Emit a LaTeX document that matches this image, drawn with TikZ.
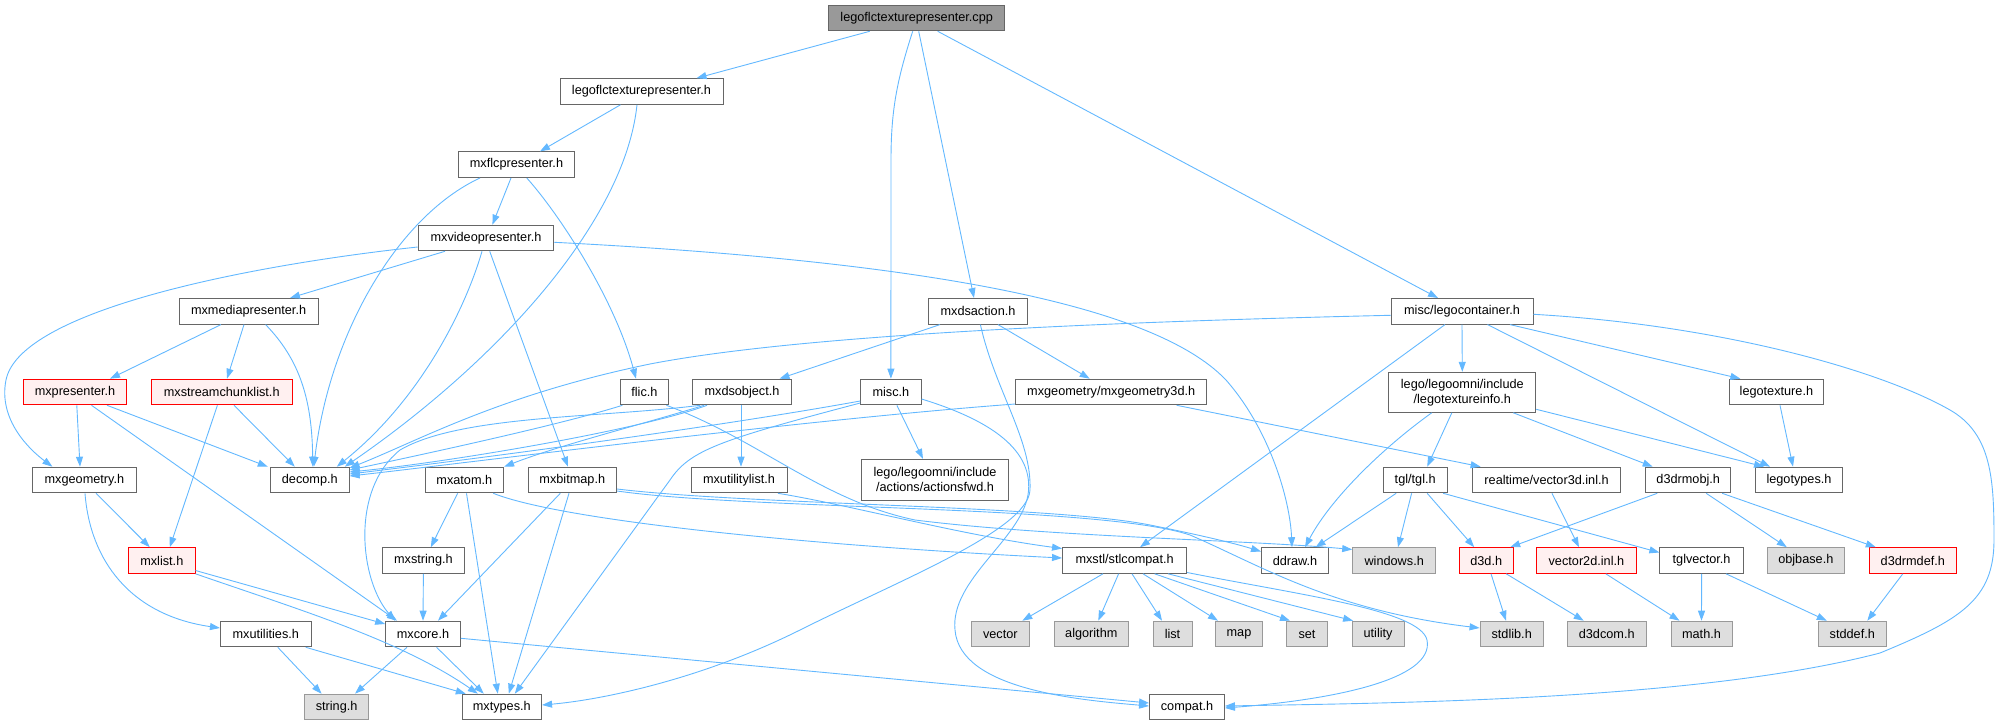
\documentclass[tikz,border=0pt]{standalone}
\usepackage{fontspec}
\setmainfont{Liberation Sans}
\usetikzlibrary{arrows.meta}
\definecolor{boxgray}{HTML}{666666}
\definecolor{rootgray}{HTML}{999999}
\definecolor{sysborder}{HTML}{999999}
\definecolor{sysfill}{HTML}{DEDEDE}
\definecolor{truncfill}{HTML}{FFF0F0}
\definecolor{edgeblue}{HTML}{63B8FF}
\newcommand{\nodefont}{\fontsize{12.7}{15}\selectfont}
\tikzset{
  nbox/.style={draw=boxgray, fill=white, line width=1pt, minimum height=25.6pt,
    inner xsep=2pt, inner ysep=2pt, font=\nodefont, text=black},
  rootbox/.style={nbox, fill=rootgray},
  sysbox/.style={nbox, draw=sysborder, fill=sysfill},
  truncbox/.style={nbox, draw=red, fill=truncfill},
  twoline/.style={align=center, minimum height=40pt},
  conn/.style={draw=edgeblue, line width=0.9pt, -{Triangle[length=10pt,width=7pt]}},
}
\begin{document}
\begin{tikzpicture}[x=1pt,y=-1pt]
\useasboundingbox (0,0) rectangle (1998,725);
% nodes
\node[rootbox, minimum width=176pt] (cpp) at (916.7,18) {legoflctexturepresenter.cpp};
\node[nbox, minimum width=163pt] (lfth) at (641.5,91.5) {legoflctexturepresenter.h};
\node[nbox, minimum width=116pt] (mxflc) at (516.5,164.7) {mxflcpresenter.h};
\node[nbox, minimum width=135.6pt] (mxvideo) at (486,238) {mxvideopresenter.h};
\node[nbox, minimum width=139pt] (mxmedia) at (248.6,311.3) {mxmediapresenter.h};
\node[nbox, minimum width=98.6pt] (mxdsaction) at (978,311.3) {mxdsaction.h};
\node[nbox, minimum width=142pt] (legocont) at (1462,311.3) {misc/legocontainer.h};
\node[truncbox, minimum width=102.6pt] (mxpresenter) at (75,392) {mxpresenter.h};
\node[truncbox, minimum width=141.4pt] (mxstream) at (221.7,392) {mxstreamchunklist.h};
\node[nbox, minimum width=48pt] (flic) at (644.4,392) {flic.h};
\node[nbox, minimum width=99pt] (mxdsobject) at (742,392) {mxdsobject.h};
\node[nbox, minimum width=60.3pt] (misc) at (890.9,392) {misc.h};
\node[nbox, minimum width=191pt] (geom3d) at (1111.2,392) {mxgeometry/mxgeometry3d.h};
\node[nbox, twoline, minimum width=147pt] (texinfo) at (1462.3,392.3) {lego/legoomni/include\\/legotextureinfo.h};
\node[nbox, minimum width=94.7pt] (legotexture) at (1776.4,392) {legotexture.h};
\node[nbox, minimum width=103.6pt] (mxgeometry) at (84.4,480) {mxgeometry.h};
\node[nbox, minimum width=78.6pt] (decomp) at (309.8,480) {decomp.h};
\node[nbox, minimum width=78.6pt] (mxatom) at (464.3,480) {mxatom.h};
\node[nbox, minimum width=88.5pt] (mxbitmap) at (572.3,480) {mxbitmap.h};
\node[nbox, minimum width=96pt] (mxutilitylist) at (739,480) {mxutilitylist.h};
\node[nbox, twoline, minimum width=147pt, minimum height=40.7pt] (actionsfwd) at (935,479.7) {lego/legoomni/include\\/actions/actionsfwd.h};
\node[nbox, minimum width=64.3pt] (tgl) at (1415.2,480) {tgl/tgl.h};
\node[nbox, minimum width=148.7pt] (vec3d) at (1546.6,480) {realtime/vector3d.inl.h};
\node[nbox, minimum width=85.3pt] (d3drmobj) at (1688.2,480) {d3drmobj.h};
\node[nbox, minimum width=87.5pt] (legotypes) at (1799,480) {legotypes.h};
\node[truncbox, minimum width=66.4pt] (mxlist) at (161.8,560.5) {mxlist.h};
\node[nbox, minimum width=81.7pt] (mxstring) at (423.4,560.5) {mxstring.h};
\node[nbox, minimum width=124.1pt] (stlcompat) at (1124.6,560.5) {mxstl/stlcompat.h};
\node[nbox, minimum width=67pt] (ddraw) at (1295,560.5) {ddraw.h};
\node[sysbox, minimum width=83pt] (windows) at (1394.2,560.5) {windows.h};
\node[truncbox, minimum width=53.6pt] (d3d) at (1486.2,560.5) {d3d.h};
\node[truncbox, minimum width=99.6pt] (vec2d) at (1586.4,560.5) {vector2d.inl.h};
\node[nbox, minimum width=83.5pt] (tglvector) at (1701.6,560.5) {tglvector.h};
\node[sysbox, minimum width=77.6pt] (objbase) at (1805.8,560.5) {objbase.h};
\node[truncbox, minimum width=87.1pt] (d3drmdef) at (1912.8,560.5) {d3drmdef.h};
\node[nbox, minimum width=90.7pt] (mxutilities) at (265.8,634) {mxutilities.h};
\node[nbox, minimum width=74.6pt] (mxcore) at (423,634) {mxcore.h};
\node[sysbox, minimum width=58.5pt] (vector) at (1000.3,634) {vector};
\node[sysbox, minimum width=74.6pt] (algorithm) at (1091.3,634) {algorithm};
\node[sysbox, minimum width=39pt] (list) at (1172.5,634) {list};
\node[sysbox, minimum width=47pt] (map) at (1239,634) {map};
\node[sysbox, minimum width=40.2pt] (set) at (1307,634) {set};
\node[sysbox, minimum width=51.8pt] (utility) at (1378.1,634) {utility};
\node[sysbox, minimum width=63.3pt] (stdlib) at (1511.7,634) {stdlib.h};
\node[sysbox, minimum width=78.6pt] (d3dcom) at (1606.7,634) {d3dcom.h};
\node[sysbox, minimum width=61pt] (math) at (1701.5,634) {math.h};
\node[sysbox, minimum width=67.9pt] (stddef) at (1852.3,634) {stddef.h};
\node[sysbox, minimum width=64.3pt] (string) at (336.6,707) {string.h};
\node[nbox, minimum width=79.5pt] (mxtypes) at (501.8,707) {mxtypes.h};
\node[nbox, minimum width=74.9pt] (compat) at (1187,707) {compat.h};
% edges
\draw[conn] ([xshift=-47pt]cpp.south) -- ([xshift=55pt]lfth.north);
\draw[conn] ([xshift=-4pt]cpp.south) .. controls (897,80) and (891,110) .. (891,160) -- (misc.north);
\draw[conn] ([xshift=2pt]cpp.south) -- ([xshift=-4pt]mxdsaction.north);
\draw[conn] ([xshift=21pt]cpp.south) -- ([xshift=-24pt]legocont.north);
\draw[conn] ([xshift=-21pt]lfth.south) -- ([xshift=23.5pt]mxflc.north);
\draw[conn] ([xshift=-4.5pt]lfth.south) .. controls (625,220) and (500,360) .. ([xshift=35pt]decomp.north);
\draw[conn] ([xshift=-36.5pt]mxflc.south) .. controls (400,215) and (330,330) .. ([xshift=4pt]decomp.north);
\draw[conn] ([xshift=-5.5pt]mxflc.south) -- ([xshift=6.4pt]mxvideo.north);
\draw[conn] ([xshift=10.3pt]mxflc.south) .. controls (560,215) and (615,300) .. ([xshift=-8.4pt]flic.north);
\draw[conn] ([yshift=-9pt]mxvideo.west) .. controls (250,265) and (20,310) .. (6,380) .. controls (-2,420) and (30,450) .. ([xshift=-32pt]mxgeometry.north);
\draw[conn] ([xshift=-41pt]mxvideo.south) -- ([xshift=41.4pt]mxmedia.north);
\draw[conn] ([xshift=-4pt]mxvideo.south) .. controls (465,310) and (420,400) .. ([xshift=27pt]decomp.north);
\draw[conn] ([xshift=3.7pt]mxvideo.south) -- ([xshift=-4.3pt]mxbitmap.north);
\draw[conn] ([yshift=-4.3pt]mxvideo.east) .. controls (900,260) and (1150,300) .. (1226,380) .. controls (1270,430) and (1290,500) .. ([xshift=-3pt]ddraw.north);
\draw[conn] ([xshift=-27.6pt]mxmedia.south) -- ([xshift=35pt]mxpresenter.north);
\draw[conn] ([xshift=-4.6pt]mxmedia.south) -- ([xshift=5.3pt]mxstream.north);
\draw[conn] ([xshift=17pt]mxmedia.south) .. controls (300,360) and (312,400) .. ([xshift=3pt]decomp.north);
\draw[conn] ([xshift=1.8pt]mxpresenter.south) -- ([xshift=-4.4pt]mxgeometry.north);
\draw[conn] ([xshift=32pt]mxpresenter.south) -- ([xshift=-42pt]decomp.north);
\draw[conn] ([xshift=16.5pt]mxpresenter.south) -- ([xshift=-26pt]mxcore.north);
\draw[conn] ([xshift=12.3pt]mxstream.south) -- ([xshift=-15pt]decomp.north);
\draw[conn] ([xshift=-4.3pt]mxstream.south) -- ([xshift=8pt]mxlist.north);
\draw[conn] ([xshift=11.6pt]mxgeometry.south) -- ([xshift=-12pt]mxlist.north);
\draw[conn] ([xshift=0.6pt]mxgeometry.south) .. controls (90,560) and (130,615) .. ([yshift=6pt]mxutilities.west);
\draw[conn] ([yshift=-10pt]mxlist.east) -- ([yshift=10pt]mxcore.west);
\draw[conn] (mxlist.south east) .. controls (300,610) and (400,640) .. ([xshift=-24pt]mxtypes.north);
\draw[conn] ([xshift=12pt]mxutilities.south) -- ([xshift=-15pt]string.north);
\draw[conn] ([xshift=40pt]mxutilities.south) -- ([xshift=-36pt]mxtypes.north);
\draw[conn] ([xshift=-16pt]mxcore.south) -- ([xshift=18.4pt]string.north);
\draw[conn] ([xshift=13.6pt]mxcore.south) -- ([xshift=-18pt]mxtypes.north);
\draw[conn] ([yshift=-4.3pt]mxcore.east) -- ([yshift=4pt]compat.west);
\draw[conn] (mxstring.south) -- (mxcore.north);
\draw[conn] ([xshift=-6.7pt]mxatom.south) -- ([xshift=7.4pt]mxstring.north);
\draw[conn] ([xshift=2.2pt]mxatom.south) -- ([xshift=-4pt]mxtypes.north);
\draw[conn] ([xshift=29pt]mxatom.south) .. controls (560,520) and (800,545) .. ([yshift=2.5pt]stlcompat.west);
\draw[conn] ([xshift=-12pt]mxbitmap.south) -- ([xshift=15pt]mxcore.north);
\draw[conn] ([xshift=-3.3pt]mxbitmap.south) -- ([xshift=7pt]mxtypes.north);
\draw[conn] ([yshift=-9pt]mxbitmap.east) .. controls (750,505) and (1050,505) .. (1150,525) .. controls (1210,537) and (1240,545) .. ([yshift=9pt]ddraw.west);
\draw[conn] ([yshift=-11pt]mxbitmap.east) .. controls (750,510) and (1100,505) .. (1190,535) .. controls (1260,565) and (1330,610) .. ([yshift=6pt]stdlib.west);
\draw[conn] ([xshift=-22pt]flic.south) .. controls (560,425) and (420,455) .. ([yshift=10pt]decomp.east);
\draw[conn] ([xshift=22pt]flic.south) .. controls (760,440) and (820,500) .. (915,520) .. controls (1050,537) and (1250,540) .. ([yshift=11pt]windows.west);
\draw[conn] ([xshift=-35pt]mxdsobject.south) .. controls (640,430) and (450,462) .. ([yshift=8pt]decomp.east);
\draw[conn] ([xshift=-38pt]mxdsobject.south) .. controls (640,425) and (560,445) .. (mxatom.north east);
\draw[conn] ([xshift=-42pt]mxdsobject.south) .. controls (600,418) and (460,415) .. (400,450) .. controls (350,490) and (360,580) .. ([xshift=-28pt]mxcore.north);
\draw[conn] ([xshift=-1pt]mxdsobject.south) -- ([xshift=2pt]mxutilitylist.north);
\draw[conn] ([yshift=-9pt]misc.west) .. controls (700,430) and (450,462) .. ([yshift=6pt]decomp.east);
\draw[conn] ([yshift=-11pt]misc.west) .. controls (720,440) and (690,450) .. (670,480) -- ([xshift=13pt]mxtypes.north);
\draw[conn] ([xshift=6pt]misc.south) -- ([xshift=-12pt]actionsfwd.north);
\draw[conn] ([yshift=-7pt]misc.east) .. controls (990,420) and (1035,450) .. (1028,495) .. controls (1020,540) and (950,580) .. (955,630) .. controls (960,690) and (1080,700) .. ([yshift=1pt]compat.west);
\draw[conn] ([xshift=-38pt]mxdsaction.south) -- ([xshift=37.5pt]mxdsobject.north);
\draw[conn] ([xshift=20pt]mxdsaction.south) -- ([xshift=-21.5pt]geom3d.north);
\draw[conn] ([xshift=2.4pt]mxdsaction.south) .. controls (995,390) and (1032,440) .. (1030,490) .. controls (1028,530) and (900,580) .. (800,630) .. controls (700,680) and (600,700) .. ([yshift=2pt]mxtypes.east);
\draw[conn] ([yshift=-12pt]geom3d.west) .. controls (800,420) and (450,465) .. ([yshift=4pt]decomp.east);
\draw[conn] ([xshift=65.5pt]geom3d.south) -- ([xshift=-66pt]vec3d.north);
\draw[conn] ([yshift=-4pt]legocont.west) .. controls (1100,322) and (800,335) .. (650,364) .. controls (500,395) and (420,440) .. ([yshift=12pt]decomp.east);
\draw[conn] (legocont.south) -- (texinfo.north);
\draw[conn] ([xshift=-17pt]legocont.south) -- ([xshift=15.4pt]stlcompat.north);
\draw[conn] ([xshift=25.5pt]legocont.south) -- ([xshift=-29pt]legotypes.north);
\draw[conn] ([xshift=48pt]legocont.south) -- ([xshift=-36pt]legotexture.north);
\draw[conn] ([yshift=-3pt]legocont.east) .. controls (1720,325) and (1880,370) .. (1950,410) .. controls (1992,434) and (1994,480) .. (1994,540) .. controls (1994,600) and (1960,620) .. (1880,653) .. controls (1700,700) and (1400,703) .. ([yshift=1pt]compat.east);
\draw[conn] ([xshift=-10.5pt]texinfo.south) -- ([xshift=12pt]tgl.north);
\draw[conn] ([xshift=-30.6pt]texinfo.south) .. controls (1380,450) and (1330,500) .. ([xshift=10pt]ddraw.north);
\draw[conn] ([xshift=51pt]texinfo.south) -- ([xshift=-35.5pt]d3drmobj.north);
\draw[conn] ([yshift=-17pt]texinfo.east) -- ([xshift=-35pt]legotypes.north);
\draw[conn] ([xshift=3.6pt]legotexture.south) -- ([xshift=-6pt]legotypes.north);
\draw[conn] ([xshift=-19pt]tgl.south) -- ([xshift=20.6pt]ddraw.north);
\draw[conn] ([xshift=-3.6pt]tgl.south) -- ([xshift=3.8pt]windows.north);
\draw[conn] ([xshift=12pt]tgl.south) -- ([xshift=-12pt]d3d.north);
\draw[conn] ([xshift=28pt]tgl.south) -- ([yshift=8pt]tglvector.west);
\draw[conn] ([xshift=5.4pt]vec3d.south) -- ([xshift=-7.4pt]vec2d.north);
\draw[conn] ([xshift=-31pt]d3drmobj.south) -- ([xshift=24pt]d3d.north);
\draw[conn] ([xshift=18pt]d3drmobj.south) -- ([xshift=-19pt]objbase.north);
\draw[conn] ([xshift=34pt]d3drmobj.south) -- ([xshift=-37pt]d3drmdef.north);
\draw[conn] ([xshift=4.8pt]d3d.south) -- ([xshift=-5.7pt]stdlib.north);
\draw[conn] ([xshift=20pt]d3d.south) -- ([xshift=-23pt]d3dcom.north);
\draw[conn] ([xshift=19.4pt]vec2d.south) -- ([xshift=-22pt]math.north);
\draw[conn] (tglvector.south) -- (math.north);
\draw[conn] ([xshift=24.4pt]tglvector.south) -- ([xshift=-25.5pt]stddef.north);
\draw[conn] ([xshift=-10pt]d3drmdef.south) -- ([xshift=15pt]stddef.north);
\draw[conn] ([xshift=-21.6pt]stlcompat.south) -- ([xshift=22pt]vector.north);
\draw[conn] ([xshift=-6pt]stlcompat.south) -- ([xshift=7pt]algorithm.north);
\draw[conn] ([xshift=7.4pt]stlcompat.south) -- ([xshift=-10.5pt]list.north);
\draw[conn] ([xshift=18.4pt]stlcompat.south) -- ([xshift=-21pt]map.north);
\draw[conn] ([xshift=30pt]stlcompat.south) -- ([xshift=-17pt]set.north);
\draw[conn] ([xshift=43.4pt]stlcompat.south) -- ([xshift=-25pt]utility.north);
\draw[conn] ([yshift=-12pt]stlcompat.east) .. controls (1300,595) and (1420,610) .. (1427,640) .. controls (1435,680) and (1330,700) .. ([yshift=-1pt]compat.east);
\draw[conn] ([xshift=39pt]mxutilitylist.south) .. controls (850,505) and (960,535) .. ([yshift=12pt]stlcompat.west);
\end{tikzpicture}
\end{document}
